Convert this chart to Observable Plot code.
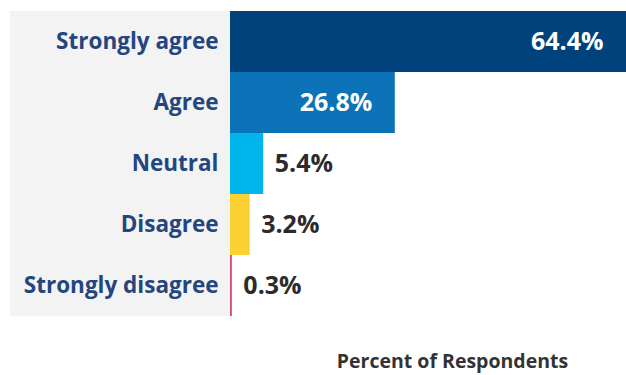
<!DOCTYPE html>
<html><head><meta charset="utf-8">
<script src="https://cdn.jsdelivr.net/npm/d3@7"></script>
<script src="https://cdn.jsdelivr.net/npm/@observablehq/plot@0.6"></script>
<style>body{margin:0;background:#fff;} svg{display:block;}</style>
</head><body>
<div id="chart"></div>
<script>
const categories = ["Strongly agree", "Agree", "Neutral", "Disagree", "Strongly disagree"];
const values = [64.4, 26.8, 5.4, 3.2, 0.3];
const colors = ["#00427c", "#0c73b8", "#00b4ec", "#fad033", "#d8457a"];
const insideLabel = [true, true, false, false, false];
const axisLabel = "Percent of Respondents";

const data = categories.map((c, i) => ({category: c, value: values[i], color: colors[i], inside: insideLabel[i]}));
const font = "'Open Sans', sans-serif";

const chart = Plot.plot({
  width: 626,
  height: 375,
  marginLeft: 230,
  marginRight: 0,
  marginTop: 11,
  marginBottom: 59,
  style: {fontFamily: font, background: "#fff"},
  x: {domain: [0, 64.4], axis: null},
  y: {domain: categories, padding: 0, axis: null},
  marks: [
    Plot.barX(categories, {y: d => d, x1: 0, x2: 0, insetLeft: -220, fill: "#f3f3f3"}),
    Plot.axisY({tickSize: 0, tickPadding: 12, fontSize: 22.5, fontWeight: 700, fill: "#24467f", label: null}),
    Plot.barX(data, {y: "category", x: "value", fill: d => d.color}),
    Plot.text(data.filter(d => d.inside), {y: "category", x: "value", text: d => d.value.toFixed(1) + "%", textAnchor: "end", dx: -23, fill: "#fff", fontSize: 25, fontWeight: 700}),
    Plot.text(data.filter(d => !d.inside), {y: "category", x: "value", text: d => d.value.toFixed(1) + "%", textAnchor: "start", dx: 11, fill: "#2b2b2b", fontSize: 25, fontWeight: 700}),
    Plot.text([axisLabel], {frameAnchor: "bottom", lineAnchor: "bottom", text: d => d, dy: 51, dx: 24, fontSize: 19.5, fontWeight: 700, fill: "#333"})
  ]
});
document.getElementById("chart").appendChild(chart);
</script>
</body></html>
